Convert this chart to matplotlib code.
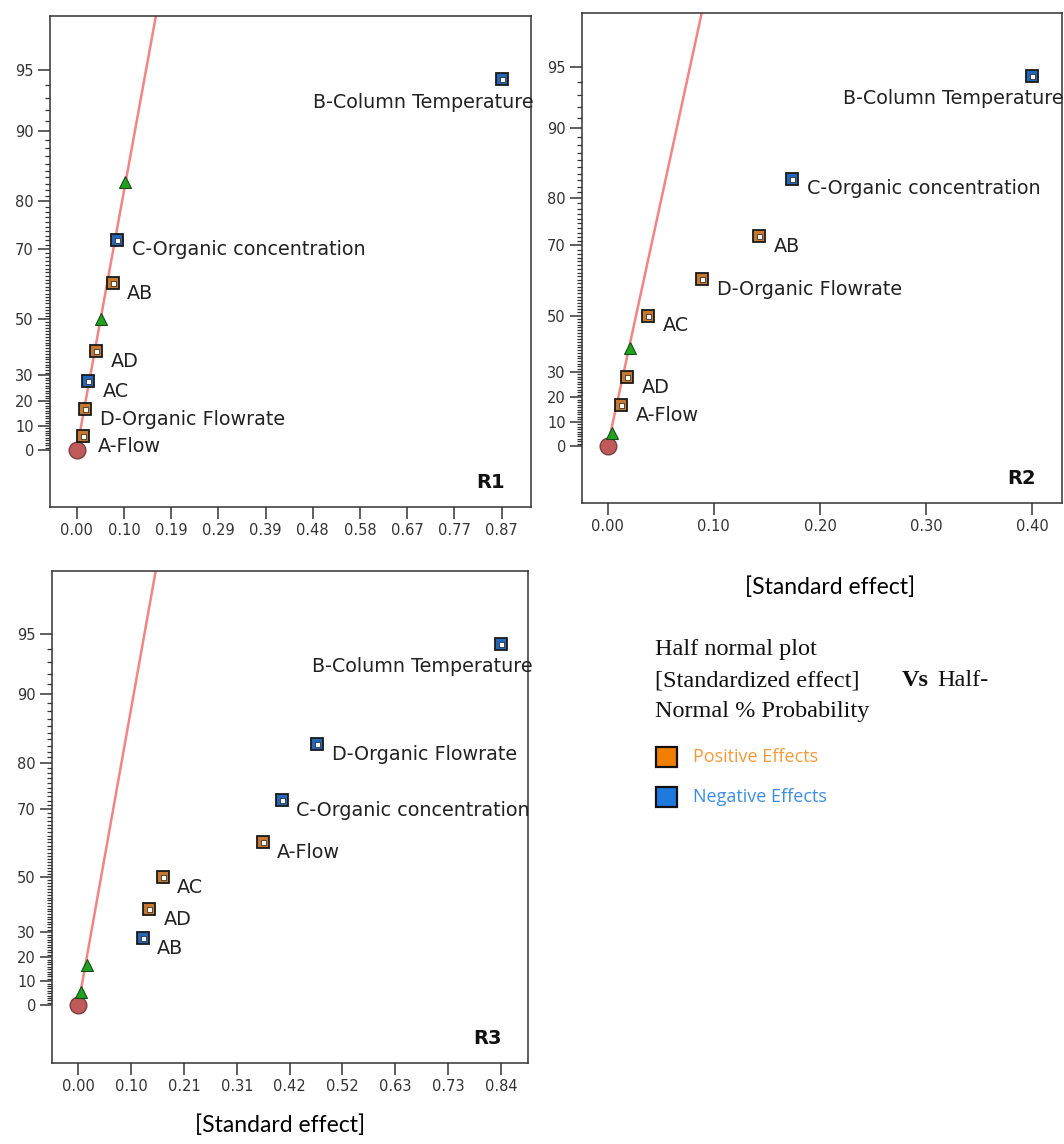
import matplotlib
matplotlib.use("Agg")
from matplotlib import pyplot as plt
from matplotlib.patches import Rectangle
from matplotlib.ticker import FixedLocator
from statistics import NormalDist
from math import erf
import numpy as np

# half-normal % probability of each ranked effect (same for every panel)
probs = [5.6, 16.7, 27.8, 38.9, 50.0, 61.1, 72.2, 83.3, 94.4]

# R1
r1_names = ['A-Flow', 'D-Organic Flowrate', 'AC', 'AD', '', 'AB',
            'C-Organic concentration', '', 'B-Column Temperature']
r1_effect = [0.0135, 0.017, 0.024, 0.039, 0.0496, 0.0735, 0.083, 0.0986, 0.868]
r1_kind = ['pos', 'pos', 'neg', 'pos', 'err', 'pos', 'neg', 'err', 'neg']
r1_ticks = ['0.00', '0.10', '0.19', '0.29', '0.39', '0.48', '0.58', '0.67', '0.77', '0.87']
r1_max = 0.867
r1_line99 = 0.186

# R2
r2_names = ['', 'A-Flow', 'AD', '', 'AC', 'D-Organic Flowrate', 'AB',
            'C-Organic concentration', 'B-Column Temperature']
r2_effect = [0.0038, 0.013, 0.018, 0.021, 0.038, 0.089, 0.143, 0.174, 0.400]
r2_kind = ['err', 'pos', 'pos', 'err', 'pos', 'pos', 'pos', 'neg', 'neg']
r2_ticks = ['0.00', '0.10', '0.20', '0.30', '0.40']
r2_max = 0.40
r2_line99 = 0.102

# R3
r3_names = ['', '', 'AB', 'AD', 'AC', 'A-Flow', 'C-Organic concentration',
            'D-Organic Flowrate', 'B-Column Temperature']
r3_effect = [0.0055, 0.0166, 0.1275, 0.1406, 0.167, 0.365, 0.403, 0.473, 0.837]
r3_kind = ['err', 'err', 'neg', 'pos', 'pos', 'pos', 'neg', 'neg', 'neg']
r3_ticks = ['0.00', '0.10', '0.21', '0.31', '0.42', '0.52', '0.63', '0.73', '0.84']
r3_max = 0.837
r3_line99 = 0.172

y_major = [0, 10, 20, 30, 50, 70, 80, 90, 95]
y_minor = [p for p in range(1, 95) if p not in y_major]

POS = '#c8782e'
NEG = '#2466b8'
W, H = 1064, 1144

_nd = NormalDist()
_inv = np.vectorize(_nd.inv_cdf, otypes=[float])
_erf = np.vectorize(erf, otypes=[float])


def fwd(p):
    q = np.clip(0.5 + np.asarray(p, float) / 200.0, 1e-9, 1 - 1e-9)
    return _inv(q)


def inv(z):
    return _erf(np.asarray(z, float) / np.sqrt(2)) * 100.0


fig = plt.figure(figsize=(W / 100, H / 100), dpi=100)


def px_axes(l, t, r, b):
    return fig.add_axes([l / W, 1 - b / H, (r - l) / W, (b - t) / H])


def panel(ax, names, effect, kind, ticks, xmax, line99, xlim, ylim, tag):
    ax.set_yscale('function', functions=(fwd, inv))
    ax.set_xlim(*xlim)
    ax.set_ylim(*ylim)

    # fitted line through the origin
    ax.plot([0, line99], [0, 99], color='#f28484', lw=1.8, zorder=2)
    ax.plot([0], [0], 'o', ms=12, mfc='#c05a5a', mec='#7a4040', mew=1, zorder=4)

    for x, p, k, n in zip(effect, probs, kind, names):
        if k == 'err':
            ax.plot([x], [p], '^', ms=8, mfc='#1fa31f', mec='#1a4a1a', mew=0.8, zorder=5)
            continue
        c = POS if k == 'pos' else NEG
        ax.plot([x], [p], 's', ms=8, mfc=c, mec='#1a1a1a', mew=1.3, zorder=5)
        ax.plot([x], [p], 's', ms=3.6, mfc='white', mec='#1a1a1a', mew=0.5, zorder=6)
        if n.startswith('B-'):
            ax.annotate(n, (x, p), xytext=(22.5, -16.5), textcoords='offset points',
                        ha='right', va='center', fontsize=13.8, color='#222')
        else:
            ax.annotate(n, (x, p), xytext=(10.5, -7.5), textcoords='offset points',
                        ha='left', va='center', fontsize=13.8, color='#222')

    ax.set_xticks(np.linspace(0, xmax, len(ticks)))
    ax.set_xticklabels(ticks)
    ax.set_yticks(y_major)
    ax.set_yticklabels([str(v) for v in y_major])
    ax.yaxis.set_minor_locator(FixedLocator(y_minor))
    ax.tick_params(axis='both', which='major', length=8.6, width=1.1, color='#333',
                   labelsize=10.5, labelcolor='#333', pad=3)
    ax.tick_params(axis='y', which='minor', length=3.6, width=0.9, color='#333')
    for s in ax.spines.values():
        s.set_linewidth(1.1)
        s.set_color('#333')
    ax.text(0.915, 0.05, tag, transform=ax.transAxes, fontsize=14, fontweight='bold',
            ha='center', va='center', color='#111')


ax1 = px_axes(50, 16, 531, 507)
panel(ax1, r1_names, r1_effect, r1_kind, r1_ticks, r1_max, r1_line99,
      (-0.0545, 0.9268), (-23.1, 97.47), 'R1')
ax2 = px_axes(582, 13, 1062, 503)
panel(ax2, r2_names, r2_effect, r2_kind, r2_ticks, r2_max, r2_line99,
      (-0.0242, 0.428), (-23.1, 97.47), 'R2')
ax3 = px_axes(52, 571, 528, 1063)
panel(ax3, r3_names, r3_effect, r3_kind, r3_ticks, r3_max, r3_line99,
      (-0.052, 0.8905), (-24.1, 97.83), 'R3')


def ftext(x, y, s, **kw):
    fig.text(x / W, 1 - y / H, s, **kw)


ftext(830, 587, '[Standard effect]', fontsize=16.5, family='Lato', ha='center', va='center')
ftext(280, 1125, '[Standard effect]', fontsize=16.5, family='Lato', ha='center', va='center')

serif = dict(fontsize=17.5, family='Liberation Serif', va='center', ha='left', color='#111')
ftext(655, 650, 'Half normal plot', **serif)
ftext(655, 681, '[Standardized effect]', **serif)
ftext(902, 681, 'Vs', fontweight='bold', **serif)
ftext(937, 681, 'Half-', **serif)
ftext(655, 712, 'Normal % Probability', **serif)

for yc, fc, tc, lab in [(757, '#f07f00', '#f59a3c', 'Positive Effects'),
                        (797, '#1f7ae0', '#3c8ce6', 'Negative Effects')]:
    fig.add_artist(Rectangle((656 / W, 1 - (yc + 10) / H), 21 / W, 20 / H,
                             transform=fig.transFigure, facecolor=fc,
                             edgecolor='#111', linewidth=1.6))
    ftext(693, yc, lab, fontsize=13, family='Open Sans', color=tc, va='center')

fig.savefig('out.png', dpi=100)
